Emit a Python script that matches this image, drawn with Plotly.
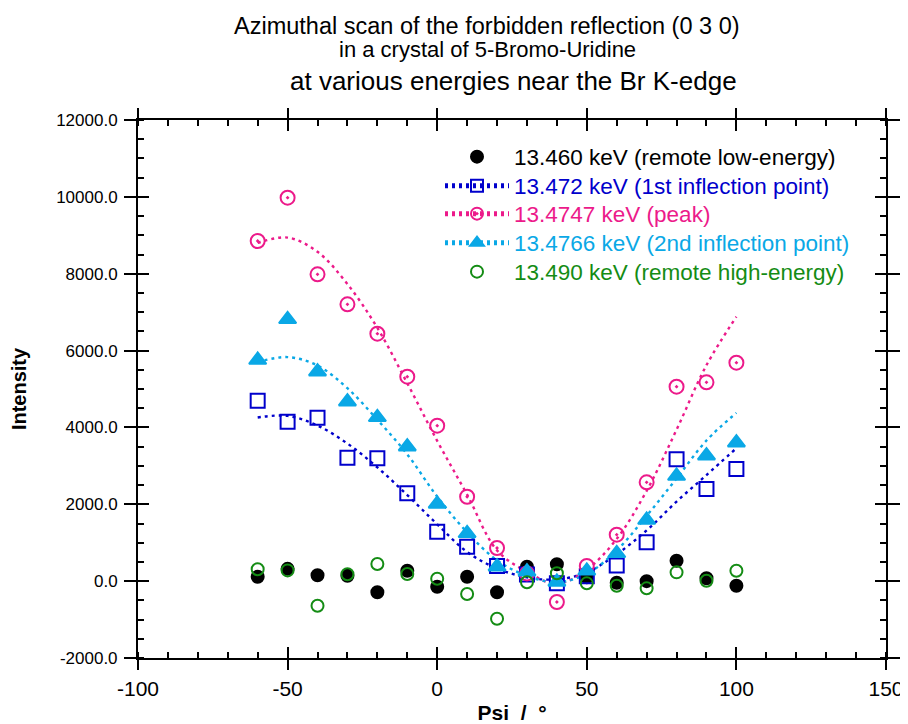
import plotly.graph_objects as go

# ---------------- data ----------------
psi = [-60, -50, -40, -30, -20, -10, 0, 10, 20, 30, 40, 50, 60, 70, 80, 90, 100]

i_13460 = [116, 320, 152, 140, -290, 272, -144, 116, -290, 376, 438, 100, -40, 0, 532, 74, -118]
i_13472 = [4696, 4149, 4253, 3212, 3197, 2286, 1287, 897, 394, 170, -56, 130, 408, 1010, 3170, 2398, 2918]
i_134747 = [8851, 9978, 7985, 7204, 6439, 5320, 4045, 2197, 863, 200, -543, 394, 1210, 2572, 5060, 5174, 5685]
i_134766 = [5755, 6814, 5450, 4670, 4264, 3499, 2008, 1245, 376, 246, -20, 270, 725, 1591, 2736, 3265, 3603]
i_13490 = [308, 280, -639, 180, 446, 186, 64, -334, -977, -30, 204, -57, -118, -187, 229, 10, 271]

fit_psi = [-60, -50, -40, -30, -20, -10, 0, 10, 20, 30, 40, 50, 60, 70, 80, 90, 100]
fit_13472 = [4260, 4300, 4050, 3580, 2960, 2240, 1480, 760, 330, 100, 45, 230, 700, 1320, 2070, 2760, 3460]
fit_134747 = [8800, 8940, 8570, 7730, 6590, 5150, 3650, 2250, 800, 245, -70, 300, 1100, 2350, 3940, 5620, 6880]
fit_134766 = [5700, 5830, 5610, 5020, 4200, 3300, 2200, 1270, 540, 140, -30, 190, 800, 1700, 2670, 3660, 4380]

labels = [
    "13.460 keV (remote low-energy)",
    "13.472 keV (1st inflection point)",
    "13.4747 keV (peak)",
    "13.4766 keV (2nd inflection point)",
    "13.490 keV (remote high-energy)",
]

x_tickvals = [-100, -50, 0, 50, 100, 150]
x_ticktext = ["-100", "-50", "0", "50", "100", "150"]
y_tickvals = [-2000, 0, 2000, 4000, 6000, 8000, 10000, 12000]
y_ticktext = ["-2000.0", "0.0", "2000.0", "4000.0", "6000.0", "8000.0", "10000.0", "12000.0"]

title_lines = [
    "Azimuthal scan of the forbidden reflection (0 3 0)",
    "in a crystal of 5-Bromo-Uridine",
    "at various energies near the Br K-edge",
]

# ---------------- styles ----------------
BLACK = "#000000"
BLUE = "#0000CC"
MAGENTA = "#EC1A8A"
CYAN = "#0AA8E6"
GREEN = "#148C14"
FONT = "Liberation Sans, Arial, Helvetica, sans-serif"
DASH = "3px,4px"

# page has an 8px body margin; figure sized to fit the window
W, H = 900, 716
PL, PT, PW, PH = 130, 112, 748, 538   # plot area in figure pixels
SX, SY = 138, 120                      # plot area origin on screen

styles = [
    dict(color=BLACK, symbol="circle", size=12, line=None, fit=None),
    dict(color=BLUE, symbol="square-open", size=14, line=BLUE, fit=fit_13472),
    dict(color=MAGENTA, symbol="circle-open-dot", size=14, line=MAGENTA, fit=fit_134747),
    dict(color=CYAN, symbol="triangle-up", size=15, line=CYAN, fit=fit_134766),
    dict(color=GREEN, symbol="circle-open", size=12, line=None, fit=None),
]
series = [i_13460, i_13472, i_134747, i_134766, i_13490]
legend_rows = [157, 186, 214, 243, 272]   # screen y of legend rows

fig = go.Figure()

# fitted curves (under markers)
for st in styles:
    if st["fit"] is not None:
        fig.add_trace(go.Scatter(
            x=fit_psi, y=st["fit"], mode="lines",
            line=dict(color=st["color"], width=2.4, dash=DASH, shape="spline", smoothing=1.0),
            showlegend=False, hoverinfo="skip"))

# data markers
for st, ys in zip(styles, series):
    fig.add_trace(go.Scatter(
        x=psi, y=ys, mode="markers",
        marker=dict(symbol=st["symbol"], size=st["size"], color=st["color"],
                    line=dict(color=st["color"], width=2)),
        showlegend=False))

# legend entries (one legend per row for exact spacing)
legend_layouts = {}
for k, (st, lab) in enumerate(zip(styles, labels)):
    lname = "legend" if k == 0 else "legend%d" % (k + 1)
    mode = "lines+markers" if st["line"] else "markers"
    fig.add_trace(go.Scatter(
        x=[None], y=[None], mode=mode,
        marker=dict(symbol=st["symbol"], size=st["size"] - 1, color=st["color"],
                    line=dict(color=st["color"], width=2)),
        line=dict(color=st["color"], width=2, dash=DASH),
        name="<span style='color:%s'>%s</span>" % (st["color"], lab),
        legend=lname, showlegend=True))
    legend_layouts[lname] = dict(
        x=(440 - SX) / PW, y=(SY + PH - legend_rows[k]) / PH,
        xanchor="left", yanchor="middle", bgcolor="rgba(0,0,0,0)",
        font=dict(size=22.5), itemwidth=64, itemsizing="constant")

# dummy trace for overlay axes
fig.add_trace(go.Scatter(x=[None], y=[None], xaxis="x2", yaxis="y2", showlegend=False, hoverinfo="skip"))

axis_common = dict(showgrid=False, zeroline=False, showline=True, linecolor="black", linewidth=2,
                   tickcolor="black", tickwidth=2, automargin=False)

fig.update_layout(
    width=W, height=H,
    margin=dict(l=PL, r=W - PL - PW, t=PT, b=H - PT - PH, autoexpand=False),
    paper_bgcolor="white", plot_bgcolor="white",
    font=dict(family=FONT, size=17, color="black"),
    xaxis=dict(range=[-100, 150], tickmode="array", tickvals=x_tickvals, ticktext=x_ticktext,
               ticks="outside", ticklen=10, mirror="allticks",
               minor=dict(tickmode="linear", tick0=-100, dtick=10, ticks="inside", ticklen=6,
                          tickwidth=2, tickcolor="black"),
               tickfont=dict(size=21), ticklabelstandoff=1,
               title=dict(text="<b>Psi  /  °</b>", font=dict(size=21), standoff=8),
               **axis_common),
    yaxis=dict(range=[-2000, 12000], tickmode="array", tickvals=y_tickvals, ticktext=y_ticktext,
               ticks="outside", ticklen=12, mirror="allticks",
               minor=dict(tickmode="linear", tick0=-2000, dtick=500, ticks="inside", ticklen=6,
                          tickwidth=2, tickcolor="black"),
               tickfont=dict(size=17), ticklabelstandoff=3,
               title=dict(text="<b>Intensity</b>", font=dict(size=20), standoff=24),
               **axis_common),
    xaxis2=dict(range=[-100, 150], overlaying="x", anchor="y2", side="bottom",
                tickmode="array", tickvals=x_tickvals, showticklabels=False,
                ticks="inside", ticklen=11, mirror="ticks", **axis_common),
    yaxis2=dict(range=[-2000, 12000], overlaying="y", anchor="x2", side="left",
                tickmode="array", tickvals=y_tickvals, showticklabels=False,
                ticks="inside", ticklen=11, mirror="ticks", **axis_common),
    showlegend=True,
    **legend_layouts,
)

title_pos = [(487, 26, 23.5), (487.5, 50, 22), (513.5, 81, 26)]   # screen positions, font size
for txt, (px, py, fs) in zip(title_lines, title_pos):
    fig.add_annotation(text=txt, xref="paper", yref="paper",
                       x=(px - SX) / PW, y=(SY + PH - py) / PH,
                       xanchor="center", yanchor="middle", showarrow=False,
                       font=dict(size=fs, color="black", family=FONT))

fig.write_html("out.html")
